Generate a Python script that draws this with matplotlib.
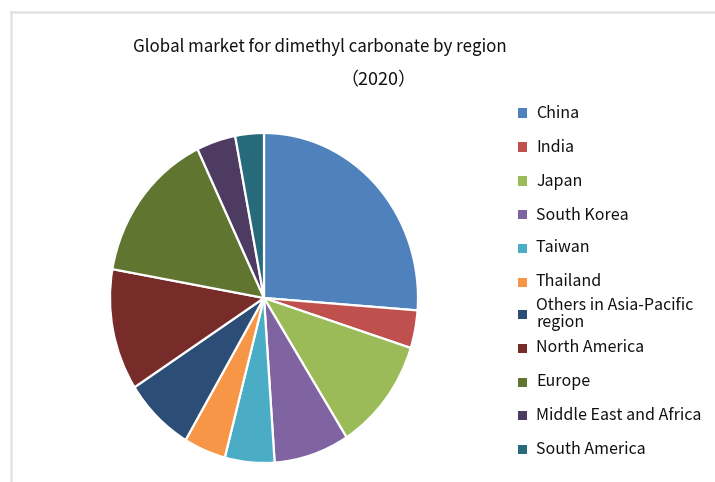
"""
Global market for dimethyl carbonate by region (2020) - pie chart
"""

import matplotlib.pyplot as plt
from matplotlib.lines import Line2D
from matplotlib.patches import Rectangle

plt.rcParams["font.family"] = ["Noto Sans CJK JP", "DejaVu Sans"]

regions = [
    "China",
    "India",
    "Japan",
    "South Korea",
    "Taiwan",
    "Thailand",
    "Others in Asia-Pacific\nregion",
    "North America",
    "Europe",
    "Middle East and Africa",
    "South America",
]
shares = [26.2, 3.7, 11.1, 7.9, 5.2, 4.4, 7.4, 11.9, 15.1, 4.1, 3.0]
colors = [
    "#4F81BD", "#C0504D", "#9BBB59", "#8064A2", "#4BACC6", "#F79646",
    "#2C4D75", "#772C2A", "#5F7530", "#4D3B62", "#276A7C",
]

W, H = 715, 482
fig = plt.figure(figsize=(W / 100, H / 100), dpi=100)

# pie area (slightly taller than wide, as in the source image)
cx, cy, rx, ry = 264, 298, 154, 165
ax = fig.add_axes([(cx - rx) / W, (H - cy - ry) / H, 2 * rx / W, 2 * ry / H])
ax.pie(
    shares,
    colors=colors,
    startangle=90,
    counterclock=False,
    wedgeprops=dict(edgecolor="white", linewidth=1.6),
)
ax.set_aspect("auto")
ax.set_xlim(-1, 1)
ax.set_ylim(-1, 1)

# title
fig.text(320 / W, 1 - 47 / H, "Global market for dimethyl carbonate by region",
         ha="center", va="center", fontsize=12.2, color="#111111")
fig.text(378 / W, 1 - 80 / H, "（2020）",
         ha="center", va="center", fontsize=13, color="#111111")

# legend
legend_y = [113, 147, 181, 215, 248, 282, 314, 348, 382, 415, 449]
for name, col, y in zip(regions, colors, legend_y):
    fig.patches.append(Rectangle(((518) / W, 1 - (y + 4.5) / H), 9 / W, 9 / H,
                                 facecolor=col, edgecolor="none",
                                 transform=fig.transFigure, figure=fig))
    fig.text(536 / W, 1 - y / H, name, ha="left", va="center",
             fontsize=11.5, color="#111111", linespacing=0.95)

# light frame of the screenshot
fig.lines.append(Line2D([11 / W, 11 / W], [0, 1 - 12 / H], color="#e2e2e2",
                        linewidth=1.8, transform=fig.transFigure))
fig.lines.append(Line2D([11 / W, 1], [1 - 12 / H, 1 - 12 / H], color="#e2e2e2",
                        linewidth=1.8, transform=fig.transFigure))

fig.savefig("out.png", dpi=100, facecolor="white")
